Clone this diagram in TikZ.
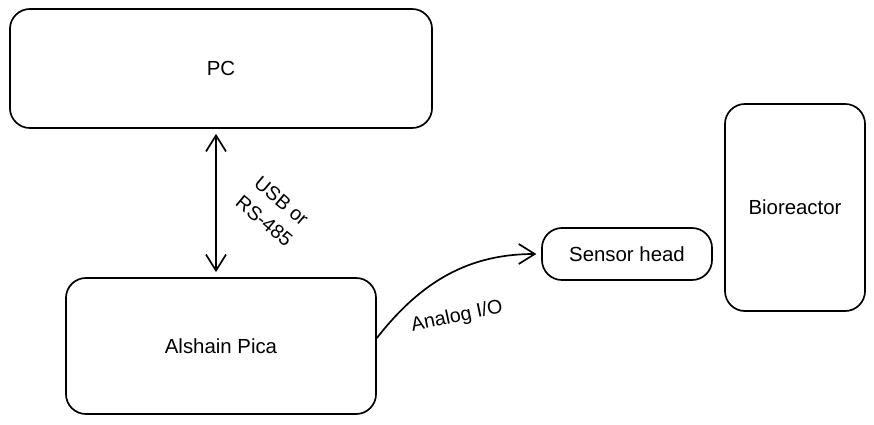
\documentclass[tikz,border=0pt]{standalone}
\usepackage{fontspec}
\setmainfont{Liberation Sans}
\usepackage{tikz}
\usetikzlibrary{arrows.meta,positioning}

\begin{document}
\begin{tikzpicture}[
  x=0.025cm, y=0.025cm,
  >={Straight Barb[length=4mm,width=5mm]},
  block/.style={draw, rectangle, rounded corners=0.5cm, line width=1.2pt,
                align=center, font=\fontsize{14.5}{17}\selectfont},
  link/.style={line width=1.2pt},
  lbl/.style={align=center, font=\fontsize{14}{19}\selectfont}
]
\useasboundingbox (0,0) rectangle (874,424);

\node (pc)     [block, minimum width=10.55cm, minimum height=2.975cm] at (221,355.5) {PC};
\node (pica)   [block, minimum width=7.75cm,  minimum height=3.4cm]   at (221,78)    {Alshain Pica};
\node (sensor) [block, minimum width=4.25cm,  minimum height=1.3cm]   at (627,170)   {Sensor head};
\node (bio)    [block, minimum width=3.5cm,   minimum height=5.175cm] at (795,216.5) {Bioreactor};

% link labels
\node (usb)    [lbl, rotate=-40] at (273,213) {USB or\\RS-485};
\node (analog) [lbl, rotate=12]  at (457,107) {Analog I/O};

\draw[link, <->, shorten <=0.125cm, shorten >=0.125cm]
  ([xshift=-0.125cm]pc.south) -- ([xshift=-0.125cm]pica.north);

\draw[link, ->, shorten >=0.12cm]
  ([yshift=0.2cm]pica.east) to[out=52, in=180] (sensor.west);
\end{tikzpicture}
\end{document}
